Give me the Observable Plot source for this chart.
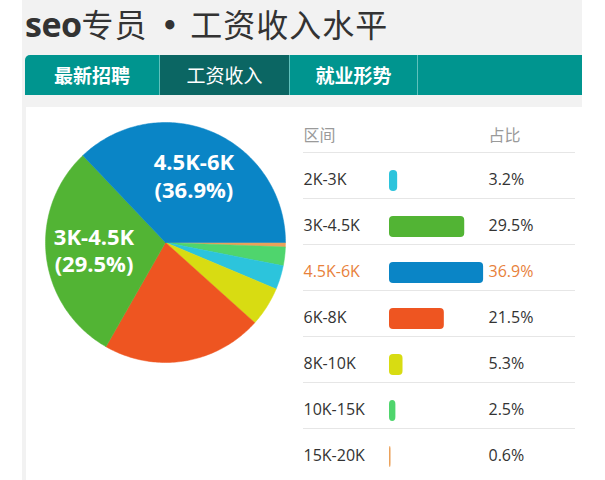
<!DOCTYPE html>
<html>
<head>
<meta charset="utf-8">
<script src="https://cdn.jsdelivr.net/npm/d3@7"></script>
<script src="https://cdn.jsdelivr.net/npm/@observablehq/plot@0.6"></script>
<style>
  html, body { margin: 0; padding: 0; background: #ffffff; }
  body { width: 605px; height: 480px; position: relative; overflow: hidden;
         font-family: "Open Sans", "Noto Sans CJK SC", sans-serif; }
  #greybox { position: absolute; left: 22px; top: 0; width: 560px; height: 480px; background: #f2f2f2; }
  #title { position: absolute; left: 25px; top: 0; height: 47px; line-height: 47px;
           font-size: 32px; color: #333; white-space: nowrap;
           font-family: "Open Sans", "Noto Sans CJK SC", sans-serif; }
  #title b { font-weight: 700; font-size: 34px; font-family: "Open Sans", sans-serif; letter-spacing: -0.5px; }
  #title span.cjk { font-family: "Noto Sans CJK SC", sans-serif; font-weight: 400; letter-spacing: 1px; }
  #title span.dot { font-family: "DejaVu Sans", sans-serif; font-weight: 700; font-size: 26px;
                    margin: 0 12px 0 14px; position: relative; top: -2px; }
  #tabs { position: absolute; left: 25px; top: 55px; width: 557px; height: 40px;
          background: #00958f; border-radius: 5px 0 0 0; display: flex; overflow: hidden; }
  .tab { height: 40px; line-height: 40px; color: #fff; text-align: center; font-size: 19px; font-weight: 700;
         font-family: "Noto Sans CJK SC", sans-serif; border-right: 1px solid #5fc1bc; box-sizing: border-box; }
  .tab.active { background: #0b6663; font-weight: 400; }
  #panel { position: absolute; left: 26px; top: 107px; width: 556px; height: 373px; background: #fff; }
  #pie { position: absolute; left: 25px; top: 110px; }
  #table { position: absolute; left: 290px; top: 110px; }
</style>
</head>
<body>
<div id="greybox"></div>
<div id="title"></div>
<div id="tabs"></div>
<div id="panel"></div>
<div id="pie"></div>
<div id="table"></div>
<script>
// ---- data ----
const titleBold = "seo";
const titleRole = "专员";
const titleSep = "•";
const titleRest = "工资收入水平";
const tabs = ["最新招聘", "工资收入", "就业形势"];
const activeTab = "工资收入";
const tabWidths = [135, 130, 128];
const headerLabels = ["区间", "占比"];
const ranges = ["2K-3K", "3K-4.5K", "4.5K-6K", "6K-8K", "8K-10K", "10K-15K", "15K-20K"];
const shares = [3.2, 29.5, 36.9, 21.5, 5.3, 2.5, 0.6];
const pieOrder = ["15K-20K", "10K-15K", "2K-3K", "8K-10K", "6K-8K", "3K-4.5K", "4.5K-6K"];
const palette = ["#2cc4dc", "#52b434", "#0a85c6", "#ee5521", "#d8dc12", "#4fd56d", "#eba15a"];
const highlight = "4.5K-6K";

// ---- header html ----
const t = document.getElementById("title");
t.innerHTML = `<b>${titleBold}</b><span class="cjk">${titleRole}</span><span class="dot">${titleSep}</span><span class="cjk">${titleRest}</span>`;
const tb = document.getElementById("tabs");
tabs.forEach((name, i) => {
  const d = document.createElement("div");
  d.className = "tab" + (name === activeTab ? " active" : "");
  d.style.width = tabWidths[i] + "px";
  d.textContent = name;
  tb.appendChild(d);
});

const rows = ranges.map((r, i) => ({label: r, share: shares[i]}));
const colorScale = {domain: ranges, range: palette};

// ---- pie ----
const total = d3.sum(shares);
const pieRows = pieOrder.map(l => rows.find(r => r.label === l));
const polys = [];
const labels = [];
let cum = 0;
pieRows.forEach(r => {
  const a0 = -2 * Math.PI * cum / total;
  cum += r.share;
  const a1 = -2 * Math.PI * cum / total;
  const n = Math.max(2, Math.ceil(Math.abs(a1 - a0) / (Math.PI / 180)));
  polys.push({label: r.label, px: 0, py: 0});
  for (let k = 0; k <= n; k++) {
    const a = a0 + (a1 - a0) * k / n;
    polys.push({label: r.label, px: Math.cos(a), py: Math.sin(a)});
  }
  polys.push({label: r.label, px: 0, py: 0});
  if (r.share > 25) {
    const am = (a0 + a1) / 2;
    labels.push({label: r.label, px: 0.6 * Math.cos(am), py: 0.6 * Math.sin(am),
                 text: `${r.label}\n(${r.share}%)`});
  }
});

const pie = Plot.plot({
  width: 265, height: 265,
  margin: 0,
  x: {domain: [-1, 1], range: [20, 260], axis: null},
  y: {domain: [-1, 1], range: [252, 12], axis: null},
  color: colorScale,
  style: {background: "transparent", overflow: "visible"},
  marks: [
    Plot.line(polys, {x: "px", y: "py", z: "label", fill: "label", stroke: "label", strokeWidth: 0.5}),
    Plot.text(labels, {x: "px", y: "py", text: "text", fill: "white", fontWeight: "bold",
                       fontSize: 22, lineHeight: 1.23, dy: -1, letterSpacing: 1,
                       fontFamily: "Open Sans, sans-serif"})
  ]
});
document.getElementById("pie").appendChild(pie);

// ---- table ----
const textColor = d => d.label === highlight ? "#e8813b" : "#333333";
const table = Plot.plot({
  width: 292, height: 370,
  marginLeft: 13, marginRight: 7, marginTop: 42, marginBottom: 6,
  x: {domain: [0, 100], range: [99, 354], axis: null},
  y: {type: "band", domain: ranges, padding: 0, axis: null},
  color: colorScale,
  style: {background: "transparent", fontFamily: "Open Sans, Noto Sans CJK SC, sans-serif"},
  marks: [
    Plot.ruleY(ranges, {y: d => d, dy: -23, stroke: "#e6e6e6", strokeWidth: 1}),
    Plot.barX(rows, {y: "label", x: "share", fill: "label", insetTop: 18, insetBottom: 7, rx: 4}),
    Plot.text(rows, {y: "label", text: "label", frameAnchor: "left", textAnchor: "start",
                     dy: 4, fontSize: 16, fill: textColor}),
    Plot.text(rows, {y: "label", text: d => d.share + "%", frameAnchor: "left", textAnchor: "start",
                     dx: 185, dy: 4, fontSize: 16, fill: textColor}),
    Plot.text([headerLabels[0]], {text: d => d, frameAnchor: "top-left", textAnchor: "start",
                     dy: -23, fontSize: 16, fill: "#9a9a9a", fontFamily: "Noto Sans CJK SC, sans-serif"}),
    Plot.text([headerLabels[1]], {text: d => d, frameAnchor: "top-left", textAnchor: "start",
                     dx: 185, dy: -23, fontSize: 16, fill: "#9a9a9a", fontFamily: "Noto Sans CJK SC, sans-serif"})
  ]
});
document.getElementById("table").appendChild(table);
</script>
</body>
</html>
